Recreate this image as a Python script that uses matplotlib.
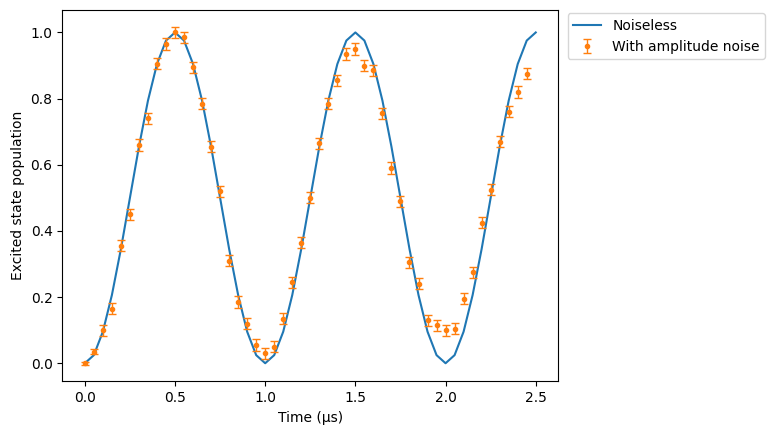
import matplotlib
matplotlib.use("Agg")
import matplotlib.pyplot as plt

t_line = [i*0.05 for i in range(51)]
half = [0, 0.0245, 0.0955, 0.2061, 0.3455, 0.5, 0.6545, 0.7939, 0.9045, 0.9755]
p_line = (half + [1.0] + half[::-1][:-1]) * 2 + half + [1.0]
p_line = p_line[:51]

t_pts = [i*0.05 for i in range(50)]
p_pts = [0.0, 0.035, 0.10, 0.165, 0.355, 0.45, 0.66, 0.74, 0.905, 0.965,
         1.0, 0.985, 0.895, 0.785, 0.655, 0.52, 0.31, 0.185, 0.12, 0.055,
         0.03, 0.05, 0.135, 0.245, 0.365, 0.5, 0.665, 0.785, 0.855, 0.935,
         0.95, 0.9, 0.885, 0.755, 0.59, 0.49, 0.305, 0.24, 0.13, 0.115,
         0.10, 0.105, 0.195, 0.275, 0.425, 0.525, 0.67, 0.76, 0.82, 0.875]
err = [0.004, 0.008] + [0.017]*48

fig = plt.figure(figsize=(7.69, 4.32), dpi=100)
ax = fig.add_axes([0.081, 0.117, 0.645, 0.86])
ax.plot(t_line, p_line, color="#1f77b4", label="Noiseless")
ax.errorbar(t_pts, p_pts, yerr=err, fmt="o", ms=3, color="#ff7f0e",
            capsize=3, elinewidth=1, label="With amplitude noise")
ax.set_xlabel("Time (μs)")
ax.set_ylabel("Excited state population")
ax.legend(loc="upper left", bbox_to_anchor=(1.005, 1.01))
fig.savefig("out.png")
